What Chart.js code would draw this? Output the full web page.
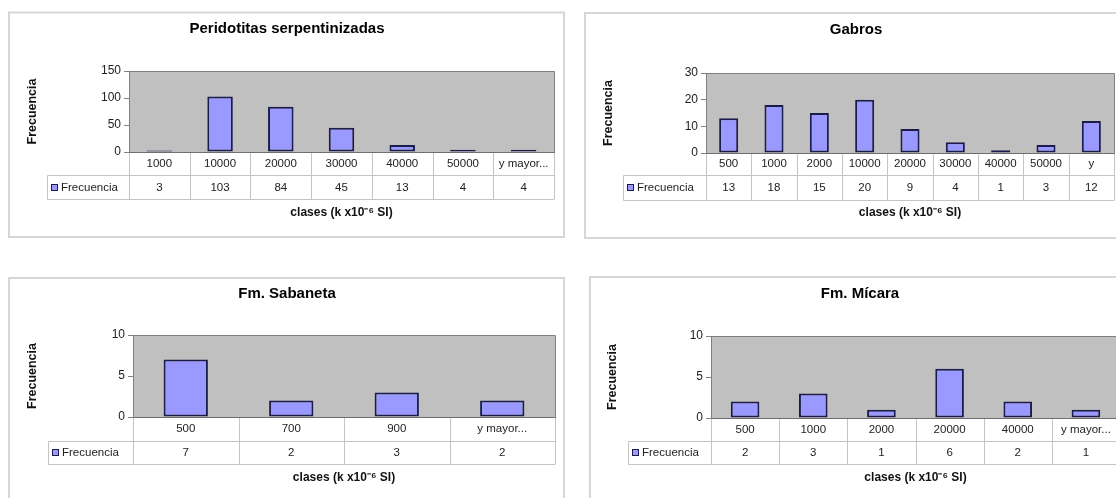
<!DOCTYPE html>
<html>
<head>
<meta charset="utf-8">
<script src="https://cdn.jsdelivr.net/npm/chart.js@4/dist/chart.umd.min.js"></script>
<style>
  html, body { margin: 0; padding: 0; background: #fff; width: 1116px; height: 498px; overflow: hidden; position: relative; }
  canvas { position: absolute; }
</style>
</head>
<body>
<canvas id="peri"></canvas>
<canvas id="gabros"></canvas>
<canvas id="sabaneta"></canvas>
<canvas id="micara"></canvas>
<script>
// Histogram data: susceptibility classes and their frequencies
const periCategories = ['1000', '10000', '20000', '30000', '40000', '50000', 'y mayor...'];
const periValues = [3, 103, 84, 45, 13, 4, 4];
const periYTicks = [0, 50, 100, 150];

const gabrosCategories = ['500', '1000', '2000', '10000', '20000', '30000', '40000', '50000', 'y'];
const gabrosValues = [13, 18, 15, 20, 9, 4, 1, 3, 12];
const gabrosYTicks = [0, 10, 20, 30];

const sabanetaCategories = ['500', '700', '900', 'y mayor...'];
const sabanetaValues = [7, 2, 3, 2];
const sabanetaYTicks = [0, 5, 10];

const micaraCategories = ['500', '1000', '2000', '20000', '40000', 'y mayor...'];
const micaraValues = [2, 3, 1, 6, 2, 1];
const micaraYTicks = [0, 5, 10];

const seriesName = 'Frecuencia';
const xAxisTitle = 'clases (k x10⁻⁶ SI)';

Chart.defaults.font.family = "'Liberation Sans', Arial, sans-serif";
Chart.defaults.color = '#222';

// Draws the white panel frame, grey plot background and the data table under the axis
const framePlugin = {
  id: 'frame',
  beforeDraw(chart, args, opts) {
    const { ctx, chartArea: a } = chart;
    ctx.save();
    ctx.fillStyle = '#ffffff';
    ctx.fillRect(0, 0, chart.width, chart.height);
    const [l, t, r, b] = opts.box;
    ctx.strokeStyle = '#d6d6d6';
    ctx.lineWidth = 2;
    ctx.strokeRect(l, t, r - l, b - t);
    ctx.fillStyle = '#c0c0c0';
    ctx.fillRect(a.left, a.top, a.right - a.left, a.bottom - a.top);
    ctx.restore();
  },
  afterDraw(chart, args, opts) {
    const { ctx, chartArea: a, scales: { x } } = chart;
    const ds = chart.data.datasets[0];
    const n = chart.data.labels.length;
    const y0 = a.bottom;
    const y1 = y0 + opts.rows[0];
    const y2 = y1 + opts.rows[1];
    const tl = opts.tableLeft;
    const px = v => Math.round(v) + 0.5;

    ctx.save();
    // plot area outline (top and right)
    ctx.strokeStyle = '#808080';
    ctx.lineWidth = 1;
    ctx.beginPath();
    ctx.moveTo(px(a.left), px(a.top));
    ctx.lineTo(px(a.right), px(a.top));
    ctx.lineTo(px(a.right), px(a.bottom));
    ctx.stroke();

    // table grid
    ctx.strokeStyle = '#c4c4c4';
    ctx.beginPath();
    for (let i = 0; i <= n; i++) {
      const bx = px(x.getPixelForValue(i - 0.5));
      ctx.moveTo(bx, y0 + 1);
      ctx.lineTo(bx, y2);
    }
    ctx.moveTo(px(tl), px(y1));
    ctx.lineTo(px(a.right), px(y1));
    ctx.moveTo(px(tl), px(y2));
    ctx.lineTo(px(a.right), px(y2));
    ctx.moveTo(px(tl), px(y1));
    ctx.lineTo(px(tl), px(y2));
    ctx.stroke();

    // legend key in the table
    const ym = (y1 + y2) / 2;
    ctx.fillStyle = ds.backgroundColor;
    ctx.fillRect(tl + 4, Math.round(ym - 3.5), 7, 7);
    ctx.strokeStyle = ds.borderColor;
    ctx.lineWidth = 1;
    ctx.strokeRect(tl + 4.5, Math.round(ym - 3.5) + 0.5, 6, 6);
    ctx.font = "11.5px 'Liberation Sans', Arial, sans-serif";
    ctx.fillStyle = '#222';
    ctx.textBaseline = 'middle';
    ctx.textAlign = 'left';
    ctx.fillText(ds.label, tl + 14, ym + 0.5);

    // values row
    ctx.textAlign = 'center';
    ds.data.forEach((v, i) => {
      ctx.fillText(String(v), x.getPixelForValue(i), ym + 0.5);
    });
    ctx.restore();
  }
};

function makeChart(id, place, title, labels, values, yTicks, lay) {
  const cv = document.getElementById(id);
  cv.style.left = place[0] + 'px';
  cv.style.top = place[1] + 'px';
  cv.width = place[2];
  cv.height = place[3];
  return new Chart(cv, {
    type: 'bar',
    data: {
      labels: labels,
      datasets: [{
        label: seriesName,
        data: values,
        backgroundColor: '#9999ff',
        borderColor: '#1c1c4c',
        borderWidth: 2,
        borderSkipped: false,
        barPercentage: 0.42,
        categoryPercentage: 1
      }]
    },
    options: {
      responsive: false,
      animation: false,
      devicePixelRatio: 1,
      events: [],
      layout: { padding: { top: lay.padTop, left: lay.padLeft, right: lay.padRight, bottom: 0 } },
      plugins: {
        legend: { display: false },
        tooltip: { enabled: false },
        title: {
          display: true,
          text: title,
          color: '#000',
          font: { size: 15, weight: 'bold' },
          padding: { top: lay.titleTop, bottom: lay.titleBottom }
        },
        frame: { box: lay.box, tableLeft: lay.tableLeft, rows: lay.rows }
      },
      scales: {
        x: {
          grid: { display: false, drawTicks: false },
          border: { display: true, color: '#6e6e6e', width: 1 },
          ticks: { padding: lay.tickPad, maxRotation: 0, minRotation: 0, autoSkip: false, font: { size: 11.5 }, color: '#222' },
          title: {
            display: true,
            text: xAxisTitle,
            color: '#111',
            font: { size: 12, weight: 'bold' },
            padding: { top: 0, bottom: lay.xTitleBottom }
          },
          afterFit: s => { s.height = lay.xHeight; }
        },
        y: {
          min: yTicks[0],
          max: yTicks[yTicks.length - 1],
          ticks: { stepSize: yTicks[1] - yTicks[0], padding: 3, font: { size: 12 }, color: '#222' },
          grid: { drawOnChartArea: false, drawTicks: true, tickLength: 5, color: '#808080' },
          border: { display: true, color: '#808080', width: 1 },
          title: {
            display: true,
            text: seriesName,
            color: '#111',
            font: { size: 12.5, weight: 'bold' },
            padding: { top: lay.yTitleTop, bottom: 0 }
          },
          afterFit: s => { s.width = lay.yWidth; }
        }
      }
    },
    plugins: [framePlugin]
  });
}

makeChart('peri', [0, 0, 574, 250], 'Peridotitas serpentinizadas', periCategories, periValues, periYTicks, {
  padTop: 10, padLeft: 20, padRight: 20, titleTop: 10, titleBottom: 33,
  yWidth: 109, yTitleTop: 5.5, xHeight: 98, tickPad: 4.5, xTitleBottom: 29.8,
  box: [9, 12.5, 564, 237], tableLeft: 47, rows: [23, 24]
});

makeChart('gabros', [574, 0, 570, 250], 'Gabros', gabrosCategories, gabrosValues, gabrosYTicks, {
  padTop: 10, padLeft: 24, padRight: 30, titleTop: 11, titleBottom: 34,
  yWidth: 108, yTitleTop: 3.5, xHeight: 97, tickPad: 4, xTitleBottom: 29.8,
  box: [11, 13, 553, 238], tableLeft: 49, rows: [22, 25]
});

makeChart('sabaneta', [0, 262, 574, 236], 'Fm. Sabaneta', sabanetaCategories, sabanetaValues, sabanetaYTicks, {
  padTop: 12, padLeft: 19, padRight: 19, titleTop: 11, titleBottom: 32,
  yWidth: 114, yTitleTop: 6.5, xHeight: 81, tickPad: 5, xTitleBottom: 12.8,
  box: [9, 16, 564, 260], tableLeft: 48, rows: [24, 23]
});

makeChart('micara', [574, 262, 570, 236], 'Fm. Mícara', micaraCategories, micaraValues, micaraYTicks, {
  padTop: 12, padLeft: 26, padRight: 24, titleTop: 11, titleBottom: 33,
  yWidth: 111, yTitleTop: 5.5, xHeight: 80, tickPad: 4.5, xTitleBottom: 12.8,
  box: [16, 15, 556, 260], tableLeft: 54, rows: [23, 23]
});
</script>
</body>
</html>
